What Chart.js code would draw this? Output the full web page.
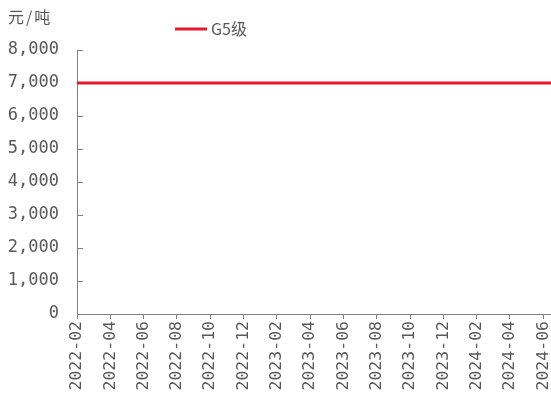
<!DOCTYPE html>
<html lang="zh">
<head>
    <meta charset="UTF-8">
    <title>G5级</title>
    <script src="https://cdn.jsdelivr.net/npm/chart.js@4.4.0/dist/chart.umd.min.js"></script>
    <style>
        body { margin: 0; background: #fff; }
        #wrap { width: 551px; height: 400px; }
    </style>
</head>
<body>
    <div id="wrap"><canvas id="chart"></canvas></div>
    <script>
        // data
        const dates = ['2022-02-01', '2022-03-01', '2022-04-01', '2022-05-01', '2022-06-01', '2022-07-01',
            '2022-08-01', '2022-09-01', '2022-10-01', '2022-11-01', '2022-12-01', '2023-01-01',
            '2023-02-01', '2023-03-01', '2023-04-01', '2023-05-01', '2023-06-01', '2023-07-01',
            '2023-08-01', '2023-09-01', '2023-10-01', '2023-11-01', '2023-12-01', '2024-01-01',
            '2024-02-01', '2024-03-01', '2024-04-01', '2024-05-01', '2024-06-01', '2024-06-15'];
        const g5Values = [7000, 7000, 7000, 7000, 7000, 7000, 7000, 7000, 7000, 7000, 7000, 7000,
            7000, 7000, 7000, 7000, 7000, 7000, 7000, 7000, 7000, 7000, 7000, 7000,
            7000, 7000, 7000, 7000, 7000, 7000];
        const tickLabels = ['2022-02', '2022-04', '2022-06', '2022-08', '2022-10', '2022-12',
            '2023-02', '2023-04', '2023-06', '2023-08', '2023-10', '2023-12',
            '2024-02', '2024-04', '2024-06'];
        const seriesName = 'G5级';
        const unitLabel = '元/吨';

        const textColor = '#595959';
        const axisColor = '#808080';
        const lineColor = '#E8192C';
        const fontFamily = '"DejaVu Sans Mono", monospace';

        // months since 2022-02
        function monthIndex(s) {
            const [y, m, d] = s.split('-').map(Number);
            return (y - 2022) * 12 + (m - 2) + (d - 1) / 30;
        }

        const points = dates.map((d, i) => ({ x: monthIndex(d), y: g5Values[i] }));

        // inward y ticks, drawn under the line
        const yTicksInside = {
            id: 'yTicksInside',
            beforeDatasetsDraw(chart) {
                const ctx = chart.ctx;
                const y = chart.scales.y;
                ctx.save();
                ctx.strokeStyle = axisColor;
                ctx.lineWidth = 1;
                y.ticks.forEach(t => {
                    const py = Math.round(y.getPixelForValue(t.value)) + 0.5;
                    ctx.beginPath();
                    ctx.moveTo(chart.chartArea.left, py);
                    ctx.lineTo(chart.chartArea.left + 6, py);
                    ctx.stroke();
                });
                ctx.restore();
            }
        };

        // unit text and legend
        const extras = {
            id: 'extras',
            afterDraw(chart) {
                const ctx = chart.ctx;
                ctx.save();
                ctx.fillStyle = textColor;
                ctx.font = '16px "Noto Sans CJK SC"';
                ctx.textBaseline = 'middle';
                ctx.letterSpacing = '2px';
                ctx.fillText(unitLabel, 8, 17);
                ctx.letterSpacing = '0px';
                ctx.strokeStyle = lineColor;
                ctx.lineWidth = 3;
                ctx.beginPath();
                ctx.moveTo(175, 29);
                ctx.lineTo(207, 29);
                ctx.stroke();
                ctx.font = '16px "Noto Sans CJK SC"';
                ctx.fillText(seriesName, 211, 29);
                ctx.restore();
            }
        };

        new Chart(document.getElementById('chart').getContext('2d'), {
            type: 'line',
            data: {
                datasets: [{
                    label: seriesName,
                    data: points,
                    borderColor: lineColor,
                    backgroundColor: lineColor,
                    borderWidth: 3,
                    pointRadius: 0,
                    tension: 0
                }]
            },
            options: {
                responsive: true,
                maintainAspectRatio: false,
                animation: false,
                layout: { padding: { top: 50, right: 0, left: 0, bottom: 0 } },
                plugins: {
                    legend: { display: false },
                    tooltip: { enabled: false }
                },
                scales: {
                    x: {
                        type: 'linear',
                        min: 0,
                        max: monthIndex(dates[dates.length - 1]),
                        afterBuildTicks(scale) {
                            scale.ticks = tickLabels.map((l, i) => ({ value: i * 2 }));
                        },
                        afterFit(scale) {
                            scale.paddingLeft = 0;
                            scale.paddingRight = 0;
                            scale.height = 86;
                        },
                        ticks: {
                            autoSkip: false,
                            minRotation: 90,
                            maxRotation: 90,
                            padding: 2,
                            color: textColor,
                            font: { family: fontFamily, size: 16.5 },
                            callback: (v) => tickLabels[Math.round(v / 2)]
                        },
                        grid: { display: true, drawOnChartArea: false, tickLength: 5, color: axisColor },
                        border: { color: axisColor, width: 1 }
                    },
                    y: {
                        min: 0,
                        max: 8000,
                        afterFit(scale) {
                            scale.width = 77;
                        },
                        ticks: {
                            stepSize: 1000,
                            padding: 10,
                            color: textColor,
                            font: { family: fontFamily, size: 17 },
                            callback: (v) => v.toLocaleString('en-US')
                        },
                        grid: { display: false },
                        border: { color: axisColor, width: 1 }
                    }
                }
            },
            plugins: [yTicksInside, extras]
        });
    </script>
</body>
</html>
